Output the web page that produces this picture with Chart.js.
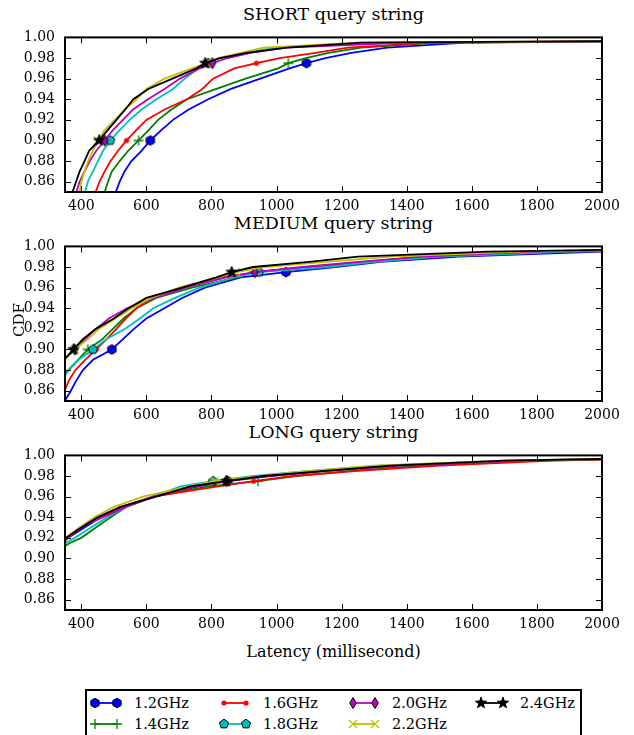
<!DOCTYPE html>
<html>
<head>
<meta charset="utf-8">
<script src="https://cdn.jsdelivr.net/npm/chart.js@4.4.0/dist/chart.umd.min.js"></script>
<style>
    body { margin: 0; background: #fff; width: 634px; height: 735px; position: relative; overflow: hidden; font-family: "DejaVu Serif", serif; color: #000; }
    canvas { position: absolute; left: 0; }
    .title { position: absolute; left: 65px; width: 537px; text-align: center; font-size: 17.5px; line-height: 20px; white-space: nowrap; }
    .xlabel { position: absolute; left: 65px; width: 537px; top: 642px; text-align: center; font-size: 16px; line-height: 20px; }
    .ylabel { position: absolute; left: -31px; top: 310px; width: 100px; height: 20px; line-height: 20px; text-align: center; font-size: 15px; transform: rotate(-90deg); }
    #legend { position: absolute; left: 85px; top: 689px; width: 497px; height: 70px; border: 2px solid #000; box-sizing: border-box; }
    .leg-text { position: absolute; font-size: 14.5px; line-height: 16px; white-space: nowrap; }
</style>
</head>
<body>
<div class="title" style="top:4px">SHORT query string</div>
<div class="title" style="top:213px">MEDIUM query string</div>
<div class="title" style="top:422px">LONG query string</div>
<canvas id="shortChart" width="634" height="201" style="top:19px"></canvas>
<canvas id="mediumChart" width="634" height="201" style="top:228px"></canvas>
<canvas id="longChart" width="634" height="201" style="top:437px"></canvas>
<div class="ylabel">CDF</div>
<div class="xlabel">Latency (millisecond)</div>
<div id="legend"></div>

<script>
const cdfLevelsShort = [0.85, 0.86, 0.87, 0.88, 0.89, 0.90, 0.91, 0.92, 0.93, 0.94, 0.95, 0.96, 0.97, 0.975, 0.98, 0.985, 0.99, 0.995, 0.9965];
const cdfLevelsMedium = [0.85, 0.86, 0.87, 0.88, 0.89, 0.90, 0.91, 0.92, 0.93, 0.94, 0.95, 0.96, 0.97, 0.975, 0.98, 0.985, 0.99, 0.995, 0.997];
const cdfLevelsLong = [0.90, 0.91, 0.915, 0.92, 0.93, 0.94, 0.95, 0.96, 0.97, 0.975, 0.98, 0.985, 0.99, 0.995, 0.997];
const markerLevels = [0.90, 0.975];

const freqLabels = ['1.2GHz', '1.4GHz', '1.6GHz', '1.8GHz', '2.0GHz', '2.2GHz', '2.4GHz'];
const xTicks = [400, 600, 800, 1000, 1200, 1400, 1600, 1800, 2000];
const yTicks = [0.86, 0.88, 0.90, 0.92, 0.94, 0.96, 0.98, 1.00];

// SHORT query string: latency (ms) at each CDF level
const short12 = [506, 518, 533, 554, 585, 612, 646, 682, 730, 790, 860, 950, 1040, 1092, 1150, 1230, 1340, 1580, 2300];
const short14 = [472, 482, 494, 518, 544, 576, 607, 636, 677, 725, 815, 905, 1005, 1036, 1090, 1160, 1260, 1500, 2400];
const short16 = [444, 456, 472, 490, 513, 539, 569, 600, 656, 725, 772, 805, 870, 938, 1010, 1120, 1220, 1480, 2200];
const short18 = [412, 420, 436, 451, 467, 489, 518, 549, 585, 631, 682, 718, 760, 790, 830, 900, 1000, 1350, 2400];
const short20 = [385, 395, 410, 426, 446, 472, 497, 528, 559, 605, 656, 703, 765, 803, 850, 920, 1030, 1400, 2200];
const short22 = [395, 400, 410, 421, 436, 451, 472, 503, 533, 569, 600, 656, 740, 785, 820, 890, 960, 1250, 2100];
const short24 = [373, 384, 395, 410, 424, 455, 481, 508, 535, 560, 606, 680, 754, 781, 826, 908, 1031, 1260, 2100];

// MEDIUM query string
const medium12 = [349, 368, 385, 405, 436, 494, 528, 562, 600, 655, 710, 780, 890, 1029, 1180, 1320, 1560, 2000, 2400];
const medium14 = [290, 310, 330, 360, 390, 420, 465, 497, 530, 570, 630, 740, 880, 930, 1100, 1270, 1450, 1800, 2200];
const medium16 = [320, 349, 362, 382, 412, 446, 478, 508, 537, 569, 620, 710, 830, 940, 1100, 1300, 1500, 1900, 2300];
const medium18 = [300, 320, 340, 362, 392, 436, 477, 535, 580, 621, 688, 764, 870, 946, 1154, 1300, 1500, 1900, 2300];
const medium20 = [250, 270, 295, 320, 345, 380, 412, 445, 485, 540, 625, 720, 846, 933, 1080, 1250, 1450, 1800, 2200];
const medium22 = [260, 280, 300, 322, 348, 380, 420, 455, 505, 555, 615, 700, 820, 875, 960, 1150, 1350, 1750, 2100];
const medium24 = [260, 282, 305, 325, 348, 376, 405, 445, 500, 545, 600, 710, 815, 862, 928, 1100, 1250, 1650, 2100];

// LONG query string
const long12 = [290, 320, 340, 360, 410, 460, 525, 620, 760, 850, 980, 1150, 1380, 1750, 2100];
const long14 = [310, 340, 365, 400, 445, 490, 538, 625, 790, 943, 1060, 1230, 1450, 1800, 2150];
const long16 = [300, 330, 345, 358, 400, 455, 525, 620, 820, 930, 1050, 1250, 1500, 1850, 2200];
const long18 = [300, 335, 352, 380, 430, 480, 538, 620, 705, 805, 930, 1100, 1320, 1700, 2100];
const long20 = [285, 315, 333, 352, 395, 467, 538, 620, 750, 846, 970, 1150, 1380, 1750, 2100];
const long22 = [280, 315, 333, 352, 395, 440, 500, 590, 730, 810, 950, 1100, 1300, 1700, 2100];
const long24 = [290, 320, 335, 353, 400, 450, 520, 630, 735, 846, 960, 1150, 1350, 1700, 2100];

const lineColors = ['#0000ff', '#008000', '#ff0000', '#00bfbf', '#bf00bf', '#bfbf00', '#000000'];
const markerKinds = ['hexagon', 'plus', 'dot', 'pentagon', 'thinDiamond', 'cross', 'star'];

// draw a marker into a small canvas so chart and legend use the same shape
function makeMarker(kind, color) {
    const size = 14;
    const c = document.createElement('canvas');
    c.width = size;
    c.height = size;
    const ctx = c.getContext('2d');
    ctx.translate(size / 2, size / 2);
    ctx.fillStyle = color;
    ctx.strokeStyle = '#000';
    ctx.lineWidth = 1;

    function polygon(n, r, inner) {
        ctx.beginPath();
        const steps = inner ? n * 2 : n;
        for (let i = 0; i < steps; i++) {
            const a = -Math.PI / 2 + i * 2 * Math.PI / steps;
            const rr = inner && i % 2 ? inner : r;
            const px = rr * Math.cos(a), py = rr * Math.sin(a);
            if (i === 0) ctx.moveTo(px, py); else ctx.lineTo(px, py);
        }
        ctx.closePath();
        ctx.fill();
        ctx.stroke();
    }

    if (kind === 'hexagon') {
        polygon(6, 4.8);
    } else if (kind === 'pentagon') {
        polygon(5, 4.8);
    } else if (kind === 'star') {
        polygon(5, 5.8, 2.4);
    } else if (kind === 'thinDiamond') {
        ctx.beginPath();
        ctx.moveTo(0, -5.5); ctx.lineTo(3.3, 0); ctx.lineTo(0, 5.5); ctx.lineTo(-3.3, 0);
        ctx.closePath();
        ctx.fill();
        ctx.stroke();
    } else if (kind === 'dot') {
        ctx.beginPath();
        ctx.arc(0, 0, 2.6, 0, Math.PI * 2);
        ctx.fill();
    } else if (kind === 'plus') {
        ctx.strokeStyle = color;
        ctx.lineWidth = 1.3;
        ctx.beginPath();
        ctx.moveTo(-5, 0); ctx.lineTo(5, 0); ctx.moveTo(0, -5); ctx.lineTo(0, 5);
        ctx.stroke();
    } else if (kind === 'cross') {
        ctx.strokeStyle = color;
        ctx.lineWidth = 1.3;
        ctx.beginPath();
        ctx.moveTo(-4, -4); ctx.lineTo(4, 4); ctx.moveTo(-4, 4); ctx.lineTo(4, -4);
        ctx.stroke();
    }
    return c;
}

const markerImages = markerKinds.map((k, i) => makeMarker(k, lineColors[i]));

// frame and inward ticks on all four sides, like the original
const framePlugin = {
    id: 'frame',
    afterDatasetsDraw(chart) {
        const { ctx, chartArea: a, scales } = chart;
        ctx.save();
        ctx.strokeStyle = '#000';
        ctx.lineWidth = 1;
        ctx.beginPath();
        xTicks.forEach(v => {
            const px = Math.round(scales.x.getPixelForValue(v)) + 0.5;
            ctx.moveTo(px, a.bottom); ctx.lineTo(px, a.bottom - 6);
            ctx.moveTo(px, a.top); ctx.lineTo(px, a.top + 6);
        });
        yTicks.forEach(v => {
            const py = Math.round(scales.y.getPixelForValue(v)) + 0.5;
            ctx.moveTo(a.left, py); ctx.lineTo(a.left + 6, py);
            ctx.moveTo(a.right, py); ctx.lineTo(a.right - 6, py);
        });
        ctx.stroke();
        ctx.lineWidth = 2;
        ctx.strokeRect(a.left, a.top, a.right - a.left, a.bottom - a.top);
        ctx.restore();
    }
};

function buildPanel(canvasId, levels, latencies) {
    const datasets = latencies.map((lat, i) => ({
        label: freqLabels[i],
        data: lat.map((ms, k) => ({ x: ms, y: levels[k] })),
        borderColor: lineColors[i],
        backgroundColor: lineColors[i],
        borderWidth: 1.8,
        pointStyle: markerImages[i],
        pointRadius: levels.map(l => markerLevels.includes(l) ? 4 : 0),
        order: latencies.length - i,
        clip: 0,
        tension: 0
    }));

    const tickFont = { family: 'DejaVu Serif', size: 14 };

    new Chart(document.getElementById(canvasId), {
        type: 'line',
        data: { datasets: datasets },
        options: {
            responsive: false,
            animation: false,
            events: [],
            layout: { padding: { top: 12, right: 32, left: 0, bottom: 0 } },
            plugins: {
                legend: { display: false },
                tooltip: { enabled: false }
            },
            scales: {
                x: {
                    type: 'linear',
                    min: 350,
                    max: 2000,
                    afterBuildTicks: s => { s.ticks = xTicks.map(v => ({ value: v })); },
                    afterFit: s => { s.height = 28; },
                    grid: { display: false, drawTicks: false },
                    border: { display: false },
                    ticks: {
                        color: '#000',
                        font: tickFont,
                        padding: 6,
                        maxRotation: 0,
                        autoSkip: false,
                        callback: v => String(v)
                    }
                },
                y: {
                    type: 'linear',
                    min: 0.85,
                    max: 1.0,
                    afterBuildTicks: s => { s.ticks = yTicks.map(v => ({ value: v })); },
                    afterFit: s => { s.width = 65; },
                    grid: { display: false, drawTicks: false },
                    border: { display: false },
                    ticks: {
                        color: '#000',
                        font: tickFont,
                        padding: 10,
                        autoSkip: false,
                        callback: v => v.toFixed(2)
                    }
                }
            }
        },
        plugins: [framePlugin]
    });
}

buildPanel('shortChart', cdfLevelsShort, [short12, short14, short16, short18, short20, short22, short24]);
buildPanel('mediumChart', cdfLevelsMedium, [medium12, medium14, medium16, medium18, medium20, medium22, medium24]);
buildPanel('longChart', cdfLevelsLong, [long12, long14, long16, long18, long20, long22, long24]);

// legend: four columns, filled column by column
const legendCols = [95, 224, 353, 481];
const legendRows = [703, 724];
freqLabels.forEach((name, i) => {
    const cx = legendCols[Math.floor(i / 2)];
    const cy = legendRows[i % 2];

    const icon = document.createElement('canvas');
    icon.width = 36;
    icon.height = 14;
    icon.style.left = (cx - 7) + 'px';
    icon.style.top = (cy - 7) + 'px';
    const ictx = icon.getContext('2d');
    ictx.strokeStyle = lineColors[i];
    ictx.lineWidth = 1.8;
    ictx.beginPath();
    ictx.moveTo(7, 7);
    ictx.lineTo(29, 7);
    ictx.stroke();
    ictx.drawImage(markerImages[i], 0, 0);
    ictx.drawImage(markerImages[i], 22, 0);
    document.body.appendChild(icon);

    const label = document.createElement('div');
    label.className = 'leg-text';
    label.textContent = name;
    label.style.left = (cx + 39) + 'px';
    label.style.top = (cy - 8) + 'px';
    document.body.appendChild(label);
});
</script>
</body>
</html>
